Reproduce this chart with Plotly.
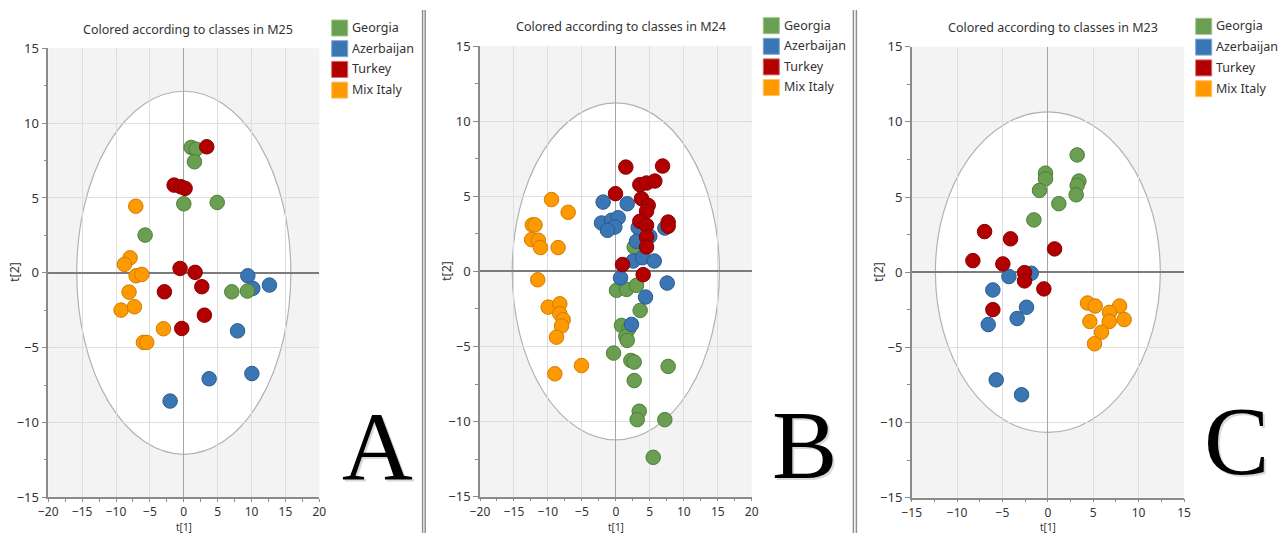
import plotly.graph_objects as go

W, H = 1280, 533

# ---------------- score data: t[1], t[2] per class ----------------
# M25
m25_georgia_t1 = [1.08, 1.82, 1.57, 0.00, 4.93, -5.71, 7.08, 9.39]
m25_georgia_t2 = [8.38, 8.26, 7.42, 4.61, 4.70, 2.52, -1.27, -1.22]
m25_azerbaijan_t1 = [9.45, 10.18, 12.64, 7.93, 10.05, 3.74, -2.02]
m25_azerbaijan_t2 = [-0.20, -1.04, -0.82, -3.88, -6.73, -7.08, -8.57]
m25_turkey_t1 = [3.39, -1.43, -0.44, 0.19, -0.55, 1.67, 2.66, -2.86, 3.04, -0.30]
m25_turkey_t2 = [8.42, 5.86, 5.75, 5.64, 0.29, 0.03, -0.93, -1.27, -2.83, -3.72]
m25_italy_t1 = [-7.09, -7.93, -8.77, -7.04, -6.20, -8.08, -9.26, -7.29, -3.00, -5.96, -5.47]
m25_italy_t2 = [4.45, 1.00, 0.56, -0.20, -0.11, -1.29, -2.49, -2.27, -3.74, -4.65, -4.65]

# M24
m24_georgia_t1 = [2.70, 0.10, 1.58, 3.04, 3.58, 0.83, 1.91, 1.47, 1.67, -0.34, 2.21, 2.70,
                  2.70, 7.70, 3.44, 3.14, 7.21, 5.50]
m24_georgia_t2 = [1.62, -1.26, -1.20, -0.93, -2.60, -3.60, -3.82, -4.33, -4.60, -5.44, -5.93,
                  -6.04, -7.27, -6.33, -9.31, -9.87, -9.87, -12.38]
m24_azerbaijan_t1 = [-1.87, 1.67, -2.11, -0.64, 0.34, -0.15, -1.23, 3.29, 5.00, 7.22, 3.04,
                     2.55, 3.93, 5.65, 0.69, 7.56, 4.37, 2.31]
m24_azerbaijan_t2 = [4.61, 4.50, 3.22, 3.40, 3.57, 2.95, 2.73, 2.91, 2.33, 2.88, 2.00,
                     0.69, 0.91, 0.69, -0.44, -0.78, -1.71, -3.53]
m24_turkey_t1 = [1.47, 6.88, -0.05, 3.53, 4.52, 5.74, 3.78, 4.76, 4.52, 3.53, 4.52, 7.70,
                 7.70, 4.52, 4.52, 0.98, 4.02]
m24_turkey_t2 = [6.94, 7.01, 5.17, 5.77, 5.88, 6.01, 4.84, 4.39, 4.01, 3.33, 3.06, 3.28,
                 3.00, 2.28, 1.62, 0.45, -0.22]
m24_italy_t1 = [-9.47, -7.02, -12.30, -11.90, -12.40, -11.40, -11.10, -8.50, -11.50, -9.96,
                -8.25, -8.25, -7.75, -8.00, -8.74, -5.06, -8.98]
m24_italy_t2 = [4.78, 3.93, 3.09, 3.09, 2.11, 2.07, 1.58, 1.58, -0.56, -2.38, -2.16, -2.82,
                -3.22, -3.64, -4.38, -6.27, -6.82]

# M23
m23_georgia_t1 = [3.23, -0.26, -0.26, -0.92, -1.54, 1.21, 3.42, 3.23, 3.12]
m23_georgia_t2 = [7.80, 6.59, 6.21, 5.44, 3.48, 4.56, 6.06, 5.77, 5.15]
m23_azerbaijan_t1 = [-1.83, -4.29, -6.06, -2.35, -3.38, -6.57, -5.69, -2.90]
m23_azerbaijan_t2 = [-0.07, -0.29, -1.18, -2.33, -3.08, -3.48, -7.16, -8.15]
m23_turkey_t1 = [-6.97, -4.11, 0.74, -8.26, -4.96, -2.57, -2.57, -0.44, -6.06]
m23_turkey_t2 = [2.70, 2.22, 1.55, 0.77, 0.55, -0.03, -0.58, -1.11, -2.49]
m23_italy_t1 = [4.37, 5.21, 7.90, 6.79, 4.63, 6.76, 8.41, 5.91, 5.14]
m23_italy_t2 = [-2.05, -2.25, -2.25, -2.67, -3.28, -3.28, -3.15, -3.99, -4.76]

classes = ["Georgia", "Azerbaijan", "Turkey", "Mix Italy"]
models = ["M25", "M24", "M23"]
panel_letters = ["A", "B", "C"]

# Hotelling T2 ellipse semi-axes (t[1], t[2]) per model
ellipse_axes = {"M25": (15.8, 12.13), "M24": (15.25, 11.22), "M23": (12.39, 10.66)}

# ---------------- styling ----------------
fill = {"Georgia": "#6a9f52", "Azerbaijan": "#3b76b4", "Turkey": "#b20000", "Mix Italy": "#ff9900"}
edge = {"Georgia": "#4d7d38", "Azerbaijan": "#2a5b8e", "Turkey": "#870000", "Mix Italy": "#d07c00"}
swatch_edge = {"Georgia": "#9cc487", "Azerbaijan": "#7ea6d3", "Turkey": "#d86a6a", "Mix Italy": "#ffc266"}

FONT = "Noto Sans"
TXT = "#333333"

scores = {
    "M25": {"Georgia": (m25_georgia_t1, m25_georgia_t2),
            "Azerbaijan": (m25_azerbaijan_t1, m25_azerbaijan_t2),
            "Turkey": (m25_turkey_t1, m25_turkey_t2),
            "Mix Italy": (m25_italy_t1, m25_italy_t2)},
    "M24": {"Georgia": (m24_georgia_t1, m24_georgia_t2),
            "Azerbaijan": (m24_azerbaijan_t1, m24_azerbaijan_t2),
            "Turkey": (m24_turkey_t1, m24_turkey_t2),
            "Mix Italy": (m24_italy_t1, m24_italy_t2)},
    "M23": {"Georgia": (m23_georgia_t1, m23_georgia_t2),
            "Azerbaijan": (m23_azerbaijan_t1, m23_azerbaijan_t2),
            "Turkey": (m23_turkey_t1, m23_turkey_t2),
            "Mix Italy": (m23_italy_t1, m23_italy_t2)},
}

# drawing order of the classes within each panel (later = on top)
draw_order = {
    "M25": ["Azerbaijan", "Georgia", "Turkey", "Mix Italy"],
    "M24": ["Georgia", "Azerbaijan", "Turkey", "Mix Italy"],
    "M23": ["Georgia", "Azerbaijan", "Turkey", "Mix Italy"],
}

# panel geometry in pixels: plot-area box, title, legend, letter, axis-title positions
panels = [
    dict(model="M25", xrange=[-20, 20], box=(48.3, 319.3, 48.3, 497.3), title=(188.3, 29.3),
         legend=(331.7, 20.0, 20.7), letter=(377, 446), ylab=(14, 272)),
    dict(model="M24", xrange=[-20, 20], box=(480.0, 751.7, 46.0, 496.7), title=(620.8, 26.7),
         legend=(763.3, 17.7, 20.6), letter=(804, 445), ylab=(446, 271)),
    dict(model="M23", xrange=[-15, 15], box=(911.7, 1184.0, 46.7, 497.7), title=(1052.7, 27.3),
         legend=(1195.7, 18.3, 20.8), letter=(1236, 441), ylab=(878, 272)),
]


def fx(px):
    return px / W


def fy(py):
    return 1 - py / H


fig = go.Figure()
shapes = []
annotations = []
layout_axes = {}

for i, p in enumerate(panels):
    k = "" if i == 0 else str(i + 1)
    xa, ya = "x" + k, "y" + k
    m = p["model"]
    x0, x1, y0, y1 = p["box"]

    axis_common = dict(
        automargin=False,
        showgrid=True, gridcolor="#dedede", gridwidth=1,
        zeroline=True, showline=True, linecolor="#8a8a8a", linewidth=1.5,
        ticks="outside", ticklen=5, tickcolor="#8a8a8a", tickwidth=1,
        dtick=5, tick0=0,
        minor=dict(dtick=2.5, ticks="outside", ticklen=3, tickcolor="#8a8a8a", showgrid=False),
        tickfont=dict(family=FONT, size=13, color=TXT),
        fixedrange=True,
    )
    layout_axes["xaxis" + k] = dict(axis_common, domain=[fx(x0), fx(x1)], range=p["xrange"],
                                    anchor=ya, zerolinecolor="#a6a6a6", zerolinewidth=1.2,
                                    ticklen=3,
                                    tickfont=dict(family=FONT, size=12, color=TXT))
    layout_axes["yaxis" + k] = dict(axis_common, domain=[fy(y1), fy(y0)], range=[-15, 15],
                                    anchor=xa, zerolinecolor="#7c7c7c", zerolinewidth=1.5)

    # score points
    for cls in draw_order[m]:
        t1, t2 = scores[m][cls]
        fig.add_trace(go.Scatter(
            x=t1, y=t2, mode="markers", name=cls, showlegend=False,
            xaxis=xa, yaxis=ya,
            marker=dict(size=14.5, color=fill[cls], line=dict(width=1, color=edge[cls])),
        ))

    # Hotelling T2 ellipse
    a, b = ellipse_axes[m]
    shapes.append(dict(type="circle", xref=xa, yref=ya, x0=-a, x1=a, y0=-b, y1=b,
                       fillcolor="white", line=dict(color="#b2b2b2", width=1.2), layer="below"))

    # title
    tx, ty = p["title"]
    annotations.append(dict(text="Colored according to classes in " + m, x=fx(tx), y=fy(ty),
                            xref="paper", yref="paper", showarrow=False,
                            xanchor="center", yanchor="middle",
                            font=dict(family=FONT, size=12.5, color=TXT)))

    # class legend
    lx, ly, step = p["legend"]
    for j, cls in enumerate(classes):
        top = ly + j * step
        shapes.append(dict(type="rect", xref="paper", yref="paper",
                           x0=fx(lx), x1=fx(lx + 16), y0=fy(top + 16), y1=fy(top),
                           fillcolor=fill[cls], line=dict(color=swatch_edge[cls], width=1)))
        annotations.append(dict(text=cls, x=fx(lx + 18.5), y=fy(top + 7.5),
                                xref="paper", yref="paper", showarrow=False,
                                xanchor="left", yanchor="middle",
                                font=dict(family=FONT, size=12.5, color=TXT)))

    # axis titles (t[1] sits at the lower page edge)
    yx, yy = p["ylab"]
    annotations.append(dict(text="t[2]", x=fx(yx), y=fy(yy), xref="paper", yref="paper",
                            showarrow=False, textangle=-90, xanchor="center", yanchor="middle",
                            font=dict(family=FONT, size=12.5, color=TXT)))
    annotations.append(dict(text="t[1]", x=fx((x0 + x1) / 2), y=fy(535), xref="paper", yref="paper",
                            showarrow=False, xanchor="center", yanchor="bottom", borderpad=0,
                            font=dict(family=FONT, size=10, color=TXT)))

    # panel letter with a soft drop shadow
    lx2, ly2 = p["letter"]
    annotations.append(dict(text=panel_letters[i], x=fx(lx2 + 2), y=fy(ly2 + 2), xref="paper",
                            yref="paper", showarrow=False, xanchor="center", yanchor="middle",
                            font=dict(family="Liberation Serif", size=98, color="rgba(0,0,0,0.15)")))
    annotations.append(dict(text=panel_letters[i], x=fx(lx2), y=fy(ly2), xref="paper", yref="paper",
                            showarrow=False, xanchor="center", yanchor="middle",
                            font=dict(family="Liberation Serif", size=98, color="black")))

# double separator rules between panels
for sx in (422.6, 425.2, 853.4, 856.4):
    shapes.append(dict(type="line", xref="paper", yref="paper",
                       x0=fx(sx), x1=fx(sx), y0=fy(533), y1=fy(10),
                       line=dict(color="#8f8f8f", width=1.5)))

fig.update_layout(
    width=W, height=H,
    margin=dict(l=0, r=0, t=0, b=0, autoexpand=False),
    paper_bgcolor="white",
    plot_bgcolor="#f3f3f3",
    showlegend=False,
    shapes=shapes,
    annotations=annotations,
    **layout_axes,
)

fig.write_html("out.html", config={"displayModeBar": False})
